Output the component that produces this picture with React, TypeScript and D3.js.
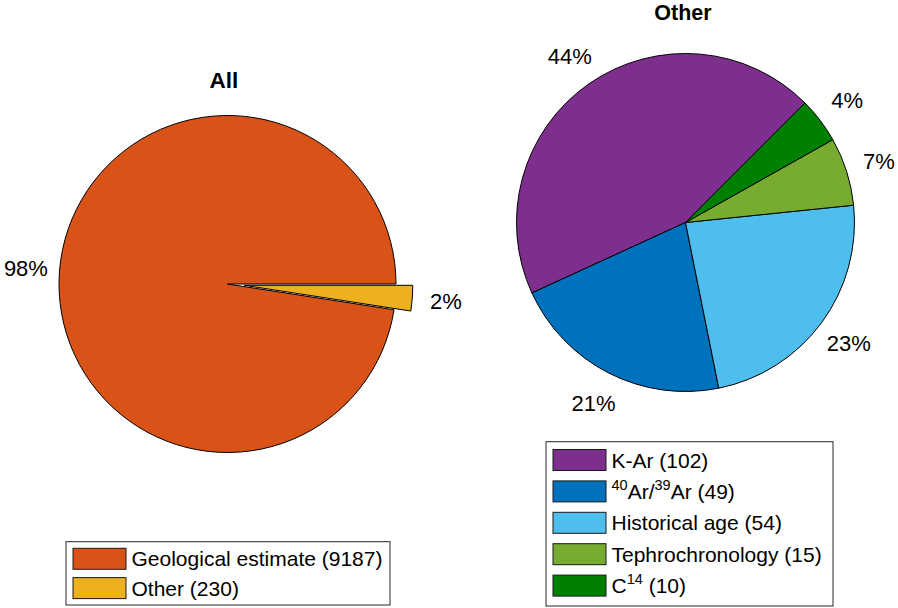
import React from 'react';
import * as d3 from 'd3';

// ---- data ----
const titles = ['All', 'Other'];
const allCategories = ['Geological estimate', 'Other'];
const allCounts = [9187, 230];
const allExplode = [false, true];
const allColors = ['#D95319', '#EDB120'];
const otherCategories = ['K-Ar', '^{40}Ar/^{39}Ar', 'Historical age', 'Tephrochronology', 'C^{14}'];
const otherCounts = [102, 49, 54, 15, 10];
const otherExplode = [false, false, false, false, false];
const otherColors = ['#7E2F8E', '#0072BD', '#4DBEEE', '#77AC30', '#008000'];

const FONT = '"Liberation Sans", Arial, Helvetica, sans-serif';
const PCT_SIZE = 22;
const LEGEND_SIZE = 21;
const SUP_SIZE = 14.5;

type Seg = { t: string; sup: boolean };
function parseTex(s: string): Seg[] {
  const parts: Seg[] = [];
  const re = /\^\{([^}]*)\}/g;
  let last = 0;
  let m: RegExpExecArray | null;
  while ((m = re.exec(s))) {
    if (m.index > last) parts.push({ t: s.slice(last, m.index), sup: false });
    parts.push({ t: m[1], sup: true });
    last = re.lastIndex;
  }
  if (last < s.length) parts.push({ t: s.slice(last), sup: false });
  return parts;
}

function Pie(props: {
  cx: number; cy: number; r: number; startDeg: number;
  counts: number[]; colors: string[]; explode: boolean[];
}) {
  const { cx, cy, r, startDeg, counts, colors, explode } = props;
  const a0 = Math.PI / 2 - (startDeg * Math.PI) / 180;
  const pie = d3.pie<number>().sort(null).value((d) => d).startAngle(a0).endAngle(a0 - 2 * Math.PI);
  const arcs = pie(counts);
  const arc = d3.arc<any>().innerRadius(0).outerRadius(r);
  const total = d3.sum(counts);
  return (
    <g transform={`translate(${cx},${cy})`}>
      {arcs.map((a, i) => {
        const mid = (a.startAngle + a.endAngle) / 2;
        const off = explode[i] ? 0.1 * r : 0;
        const dx = off * Math.sin(mid);
        const dy = -off * Math.cos(mid);
        return (
          <path key={'p' + i} d={arc(a) || ''} transform={`translate(${dx},${dy})`}
            fill={colors[i]} stroke="#000" strokeWidth={1} strokeLinejoin="round" />
        );
      })}
      {arcs.map((a, i) => {
        const mid = (a.startAngle + a.endAngle) / 2;
        const off = explode[i] ? 0.1 * r : 0;
        const lx = (off + 1.2 * r) * Math.sin(mid);
        const ly = -(off + 1.2 * r) * Math.cos(mid);
        return (
          <text key={'t' + i} x={lx} y={ly} dy="0.36em" textAnchor="middle"
            fontSize={PCT_SIZE} fontFamily={FONT} fill="#000">
            {Math.round((100 * counts[i]) / total)}%
          </text>
        );
      })}
    </g>
  );
}

function Legend(props: {
  x: number; y: number; w: number; h: number; firstCenter: number; step: number;
  labels: string[]; counts: number[]; colors: string[];
}) {
  const { x, y, w, h, firstCenter, step, labels, counts, colors } = props;
  return (
    <g>
      <rect x={x} y={y} width={w} height={h} fill="#fff" stroke="#262626" strokeWidth={1} />
      {labels.map((lab, i) => {
        const cy = firstCenter + i * step;
        const segs = parseTex(lab + ` (${counts[i]})`);
        let prevSup = false;
        return (
          <g key={i}>
            <rect x={x + 7} y={cy - 10.5} width={53} height={21} fill={colors[i]} stroke="#1a1a1a" strokeWidth={1} />
            <text x={x + 65.5} y={cy + 7.5} fontSize={LEGEND_SIZE} fontFamily={FONT} fill="#000">
              {segs.map((s, j) => {
                let dyv = 0;
                if (s.sup && !prevSup) dyv = -9;
                if (!s.sup && prevSup) dyv = 9;
                prevSup = s.sup;
                return (
                  <tspan key={j} dy={dyv} fontSize={s.sup ? SUP_SIZE : LEGEND_SIZE}>{s.t}</tspan>
                );
              })}
            </text>
          </g>
        );
      })}
    </g>
  );
}

export default function App() {
  return (
    <svg width={898} height={608} style={{ position: 'absolute', left: 0, top: 0, background: '#fff' }}
      fontFamily={FONT}>
      <rect x={0} y={0} width={898} height={608} fill="#fff" />
      <text x={224} y={87.7} textAnchor="middle" fontSize={22.5} fontWeight="bold">{titles[0]}</text>
      <text x={683} y={20} textAnchor="middle" fontSize={21.5} fontWeight="bold">{titles[1]}</text>
      <Pie cx={227.5} cy={284} r={168.5} startDeg={0} counts={allCounts} colors={allColors} explode={allExplode} />
      <Pie cx={685.5} cy={222.5} r={169} startDeg={45} counts={otherCounts} colors={otherColors} explode={otherExplode} />
      <Legend x={66} y={541.7} w={324} h={63.3} firstCenter={558.8} step={29.3}
        labels={allCategories} counts={allCounts} colors={allColors} />
      <Legend x={546} y={441.7} w={287} h={164.3} firstCenter={460} step={31.4}
        labels={otherCategories} counts={otherCounts} colors={otherColors} />
    </svg>
  );
}
